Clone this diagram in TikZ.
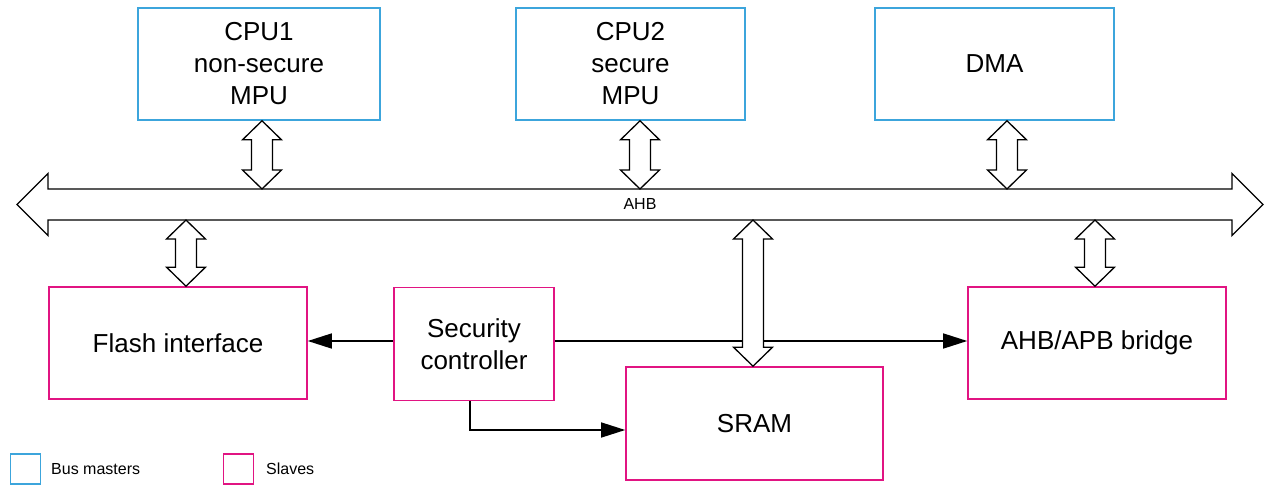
\documentclass[tikz,border=0pt]{standalone}
\usepackage{fontspec}
\setmainfont{Liberation Sans}
\usetikzlibrary{arrows.meta,calc}
\definecolor{mblue}{RGB}{60,165,220}
\definecolor{spink}{RGB}{225,20,130}
\tikzset{
  box/.style={draw, line width=1.6pt, inner sep=0pt, align=center,
    font=\fontsize{26}{32}\selectfont},
  master/.style={box, draw=mblue},
  slave/.style={box, draw=spink},
  dbl/.style={draw=black, fill=white, line width=1.3pt, line join=miter},
  conn/.style={draw=black, line width=1.5pt, -{Triangle[length=24pt,width=15pt]}},
  legbox/.style={draw, line width=1.6pt, minimum width=30pt, minimum height=30pt, inner sep=0pt},
  legtext/.style={anchor=west, inner sep=0pt, font=\fontsize{16}{19}\selectfont},
}
\newcommand\vdbl[2]{%
  \path[dbl] let \p1=(#1), \p2=(#2) in
    (\p1) -- ({\x1+19.5pt},{\y1-19pt}) -- ({\x1+10.5pt},{\y1-19pt})
    -- ({\x1+10.5pt},{\y2+19pt}) -- ({\x1+19.5pt},{\y2+19pt})
    -- (\x1,\y2) -- ({\x1-19.5pt},{\y2+19pt}) -- ({\x1-10.5pt},{\y2+19pt})
    -- ({\x1-10.5pt},{\y1-19pt}) -- ({\x1-19.5pt},{\y1-19pt}) -- cycle;}
\begin{document}
\begin{tikzpicture}[x=1pt, y=-1pt]
\useasboundingbox (0,0) rectangle (1272,487);
% bus masters
\node[master, minimum width=242pt, minimum height=112pt] (cpu1) at (259,64) {CPU1\\non-secure\\MPU};
\node[master, minimum width=229pt, minimum height=112pt] (cpu2) at (630.5,64) {CPU2\\secure\\MPU};
\node[master, minimum width=239pt, minimum height=112pt] (dma) at (994.5,64) {DMA};
% slaves
\node[slave, minimum width=258pt, minimum height=112pt] (flash) at (178,343) {Flash interface};
\node[slave, minimum width=160pt, minimum height=113pt] (sec) at (474,344) {Security\\controller};
\node[slave, minimum width=257pt, minimum height=113pt] (sram) at (754.5,423.5) {SRAM};
\node[slave, minimum width=258pt, minimum height=112pt] (bridge) at (1097,343) {AHB/APB bridge};
% bus
\coordinate (busL) at (17,204.5);
\coordinate (busR) at (1263,204.5);
\coordinate (busT) at (0,189);
\coordinate (busB) at (0,220);
\path[dbl] let \p1=(busL), \p2=(busR) in
  (\p1) -- ({\x1+31pt},{\y1+31pt}) -- ({\x1+31pt},{\y1+15.5pt})
  -- ({\x2-31pt},{\y1+15.5pt}) -- ({\x2-31pt},{\y2+31pt}) -- (\p2)
  -- ({\x2-31pt},{\y2-31pt}) -- ({\x2-31pt},{\y2-15.5pt})
  -- ({\x1+31pt},{\y2-15.5pt}) -- ({\x1+31pt},{\y1-31pt}) -- cycle;
\node[font=\fontsize{16}{19}\selectfont, inner sep=0pt] (ahb) at (640,203.5) {AHB};
% control connectors
\coordinate (hl) at (0,341);
\draw[conn] (sec.west |- hl) -- (flash.east |- hl);
\draw[conn] (sec.east |- hl) -- (bridge.west |- hl);
\coordinate (secb) at ([xshift=-4pt]sec.south);
\draw[conn] (secb) |- ([yshift=-6.5pt]sram.west);
% bus links
\coordinate (a1) at ([xshift=3pt]cpu1.south);
\coordinate (a2) at ([xshift=9.5pt]cpu2.south);
\coordinate (a3) at ([xshift=12.5pt]dma.south);
\coordinate (b1) at ([xshift=8pt]flash.north);
\coordinate (b2) at ([xshift=-1.5pt]sram.north);
\coordinate (b3) at ([xshift=-2pt]bridge.north);
\vdbl{a1}{a1 |- busT}
\vdbl{a2}{a2 |- busT}
\vdbl{a3}{a3 |- busT}
\vdbl{b1 |- busB}{b1}
\vdbl{b2 |- busB}{b2}
\vdbl{b3 |- busB}{b3}
% legend
\node[legbox, draw=mblue] (legm) at (25.5,469) {};
\node[legtext] (legmt) at (51,469) {Bus masters};
\node[legbox, draw=spink] (legs) at (238.5,469) {};
\node[legtext] (legst) at (266,469) {Slaves};
\end{tikzpicture}
\end{document}
